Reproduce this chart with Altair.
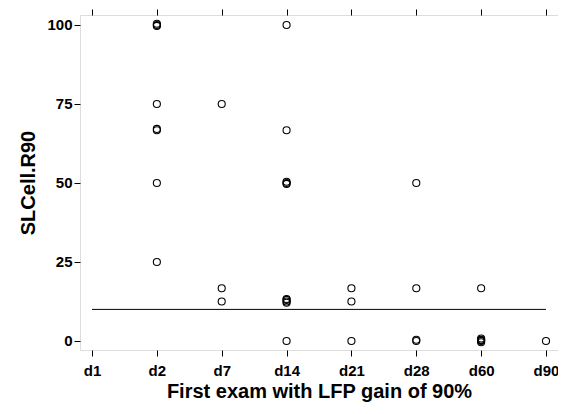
import altair as alt
import pandas as pd

categories = ["d1", "d2", "d7", "d14", "d21", "d28", "d60", "d90"]
exam = ["d2", "d2", "d2", "d2", "d2", "d2", "d2", "d2",
        "d7", "d7", "d7",
        "d14", "d14", "d14", "d14", "d14", "d14", "d14", "d14", "d14", "d14",
        "d21", "d21", "d21",
        "d28", "d28", "d28", "d28",
        "d60", "d60", "d60", "d60", "d60", "d60",
        "d90"]
slcell = [100, 100.4, 99.7, 75, 66.7, 67.1, 50, 25,
          75, 16.7, 12.5,
          100, 66.7, 50, 50.4, 49.7, 12.5, 13.0, 12.1, 13.3, 0,
          16.7, 12.5, 0,
          50, 16.7, 0, 0.4,
          16.7, 0, 0.4, -0.4, 0.8, 0.2,
          0]
ref_value = 10

df = pd.DataFrame({"exam": exam, "slcell": slcell})

font = "Liberation Sans"
xscale = alt.Scale(domain=categories, type="point", padding=0.185)
yscale = alt.Scale(domain=[-2.85, 103.16], nice=False, zero=False)

axis_common = dict(domain=False, grid=False, tickColor="black", tickSize=6,
                   labelFont=font, labelFontWeight="bold", labelFontSize=15,
                   labelColor="black", titleFont=font, titleFontWeight="bold",
                   titleColor="black", titleFontSize=20)

points = alt.Chart(df).mark_point(shape="circle", filled=False, color="black",
                                  size=50, strokeWidth=1.1, opacity=1).encode(
    x=alt.X("exam:N", scale=xscale, sort=categories,
            title="First exam with LFP gain of 90%",
            axis=alt.Axis(labelAngle=0, labelPadding=7, titlePadding=3, **axis_common)),
    y=alt.Y("slcell:Q", scale=yscale, title="SLCell.R90",
            axis=alt.Axis(values=[0, 25, 50, 75, 100], labelPadding=2,
                          titlePadding=8, **axis_common)),
)

mirror = alt.Chart(df).mark_point(opacity=0).encode(
    x=alt.X("exam:N", scale=xscale, sort=categories, title=None,
            axis=alt.Axis(orient="top", labels=False, domain=False, grid=False,
                          tickColor="black", tickSize=6)),
    y=alt.Y("slcell:Q", scale=yscale, axis=None),
)

rule = alt.Chart(pd.DataFrame({"x1": ["d1"], "x2": ["d90"], "y": [ref_value]})).mark_rule(
    color="black", strokeWidth=1).encode(
    x=alt.X("x1:N", scale=xscale, sort=categories, axis=None),
    x2="x2:N",
    y=alt.Y("y:Q", scale=yscale, axis=None),
)

chart = alt.layer(points, mirror, rule).resolve_axis(
    x="independent", y="independent"
).properties(
    width=478, height=335,
    padding={"left": 72, "top": 7, "right": 0, "bottom": 56},
    autosize=alt.AutoSizeParams(type="none"),
).configure_view(stroke="black", strokeWidth=1).configure(background="white")

chart.save("out.html", embed_options={"renderer": "svg", "actions": False})
